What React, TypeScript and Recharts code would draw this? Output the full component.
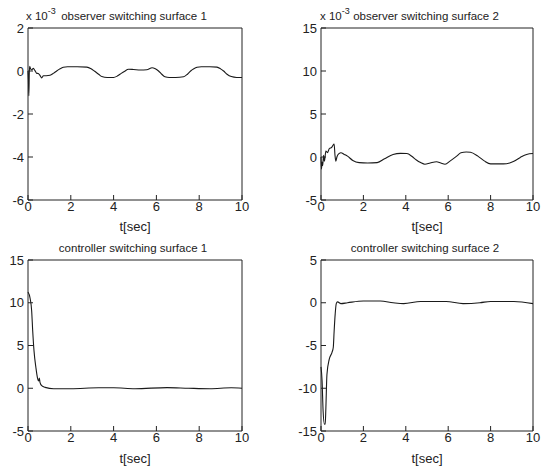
import React from 'react';
import { LineChart, Line, XAxis, YAxis } from 'recharts';

// observer switching surface 1 (values in units of 1e-3)
const obs1T = [0, 0.02, 0.04, 0.06, 0.08, 0.12, 0.17, 0.25, 0.32, 0.4, 0.48, 0.56, 0.64, 0.72, 0.85, 1.03, 1.2, 1.34, 1.5, 1.65, 1.85, 2.3, 2.75, 2.95, 3.1, 3.3, 3.45, 3.7, 4.0, 4.15, 4.3, 4.5, 4.7, 4.93, 5.25, 5.55, 5.8, 5.95, 6.1, 6.25, 6.4, 6.6, 6.9, 7.27, 7.45, 7.6, 7.75, 7.9, 8.1, 8.5, 8.83, 9.0, 9.14, 9.3, 9.5, 9.75, 10];
const obs1V = [0, -0.4, -1.15, -0.1, 0.22, 0.1, 0.05, 0.12, 0.03, -0.1, -0.12, -0.2, -0.32, -0.22, -0.22, -0.2, -0.1, 0, 0.1, 0.17, 0.2, 0.2, 0.18, 0.1, 0, -0.15, -0.26, -0.3, -0.3, -0.25, -0.15, -0.02, 0.08, 0.07, 0.05, 0.06, 0.15, 0.1, 0, -0.15, -0.27, -0.3, -0.3, -0.27, -0.15, 0, 0.1, 0.17, 0.2, 0.2, 0.18, 0.1, 0, -0.15, -0.26, -0.3, -0.3];

// observer switching surface 2 (values in units of 1e-3)
const obs2T = [0, 0.02, 0.05, 0.08, 0.12, 0.16, 0.23, 0.3, 0.4, 0.5, 0.55, 0.62, 0.66, 0.7, 0.75, 0.85, 0.94, 1.1, 1.25, 1.5, 1.8, 2.2, 2.65, 3.0, 3.4, 3.75, 4.05, 4.3, 4.5, 4.7, 4.9, 5.15, 5.45, 5.65, 5.85, 6.1, 6.4, 6.6, 6.85, 7.05, 7.4, 7.7, 8.0, 8.6, 8.9, 9.1, 9.4, 9.7, 10];
const obs2V = [0, -1.4, -0.6, -1.0, 0.2, -0.5, 0.7, 0.5, 1.0, 1.1, 1.3, 1.5, 0.2, -0.5, 0, 0.4, 0.5, 0.3, 0.1, -0.4, -0.65, -0.7, -0.65, -0.2, 0.3, 0.42, 0.4, 0.05, -0.35, -0.65, -0.85, -0.7, -0.55, -0.7, -0.85, -0.45, 0.1, 0.5, 0.58, 0.55, 0.1, -0.45, -0.8, -0.8, -0.7, -0.5, -0.05, 0.3, 0.4];

// controller switching surface 1
const ctl1T = [0, 0.1, 0.17, 0.22, 0.28, 0.37, 0.44, 0.5, 0.53, 0.56, 0.64, 0.8, 1.2, 2, 3.3, 4, 5, 6.5, 7.5, 8.5, 9.5, 10];
const ctl1V = [11.25, 10.5, 9.1, 6.7, 4.4, 2.4, 1.25, 0.85, 1.2, 0.7, 0.3, 0.1, -0.05, -0.05, 0.05, 0.05, -0.05, 0.07, 0, -0.05, 0.05, 0];

// controller switching surface 2
const ctl2T = [0, 0.05, 0.1, 0.16, 0.2, 0.23, 0.28, 0.39, 0.52, 0.58, 0.62, 0.67, 0.72, 0.78, 0.94, 1.25, 2.0, 2.8, 3.4, 3.9, 4.7, 5.9, 6.7, 7.5, 8.0, 9.1, 10];
const ctl2V = [-7.5, -9.1, -12.7, -14.2, -14.2, -12.3, -8.4, -6.6, -5.8, -5.2, -3.3, -1.3, -0.1, 0.1, -0.1, 0, 0.2, 0.2, 0, -0.1, 0.15, 0.15, -0.1, 0, 0.15, 0.15, -0.1];

const timeTicks = [0, 2, 4, 6, 8, 10];
const obs1Ticks = [-6, -4, -2, 0, 2];
const obs2Ticks = [-5, 0, 5, 10, 15];
const ctl1Ticks = [-5, 0, 5, 10, 15];
const ctl2Ticks = [-15, -10, -5, 0, 5];

const FONT = '"Liberation Sans", Arial, sans-serif';
const INK = '#222';

const toRows = (t: number[], v: number[]) => t.map((x, i) => ({ t: x, v: v[i] }));

interface PanelProps {
  left: number;
  top: number;
  width: number;
  height: number;
  plotLeft: number;
  plotRight: number;
  plotTop: number;
  plotBottom: number;
  rows: { t: number; v: number }[];
  yTicks: number[];
}

function Panel({ left, top, width, height, plotLeft, plotRight, plotTop, plotBottom, rows, yTicks }: PanelProps) {
  const domain: [number, number] = [yTicks[0], yTicks[yTicks.length - 1]];
  const tickStyle = { fill: INK, fontSize: 13, fontFamily: FONT };
  return (
    <div style={{ position: 'absolute', left, top }}>
      <LineChart
        width={width}
        height={height}
        data={rows}
        margin={{ top: plotTop - 1, right: width - plotRight - 1, left: 0, bottom: 0 }}
      >
        <XAxis
          dataKey="t"
          type="number"
          domain={[0, 10]}
          ticks={timeTicks}
          height={height - plotBottom}
          stroke={INK}
          tickSize={-5}
          tickMargin={7}
          tick={tickStyle}
          label={{ value: 't[sec]', position: 'insideBottom', offset: 4, style: { fill: INK, fontSize: 13, fontFamily: FONT } }}
        />
        <XAxis
          xAxisId="top"
          orientation="top"
          type="number"
          dataKey="t"
          domain={[0, 10]}
          ticks={timeTicks}
          height={1}
          stroke={INK}
          tickSize={-5}
          tick={false}
        />
        <YAxis
          type="number"
          domain={domain}
          ticks={yTicks}
          width={plotLeft}
          stroke={INK}
          tickSize={-5}
          tickMargin={9}
          tick={tickStyle}
          allowDataOverflow
        />
        <YAxis
          yAxisId="right"
          orientation="right"
          type="number"
          domain={domain}
          ticks={yTicks}
          width={1}
          stroke={INK}
          tickSize={-5}
          tick={false}
          allowDataOverflow
        />
        <Line
          type="monotone"
          dataKey="v"
          stroke="#1a1a1a"
          strokeWidth={1.1}
          dot={false}
          isAnimationActive={false}
        />
        {/* invisible twin so the top/right box axes get registered */}
        <Line
          xAxisId="top"
          yAxisId="right"
          type="monotone"
          dataKey="v"
          stroke="none"
          dot={false}
          isAnimationActive={false}
        />
      </LineChart>
    </div>
  );
}

function Title({ cx, cy, text, exp }: { cx: number; cy: number; text: string; exp?: number }) {
  return (
    <>
      {exp !== undefined && (
        <div style={{ position: 'absolute', left: exp, top: cy - 7, fontSize: 11.5, lineHeight: '14px', color: INK, fontFamily: FONT, whiteSpace: 'nowrap' }}>
          x 10<sup style={{ fontSize: 9, verticalAlign: 'top', position: 'relative', top: -5 }}>-3</sup>
        </div>
      )}
      <div style={{ position: 'absolute', left: cx - 100, width: 200, top: cy - 7, textAlign: 'center', fontSize: 11.5, lineHeight: '14px', color: INK, fontFamily: FONT, whiteSpace: 'nowrap' }}>
        {text}
      </div>
    </>
  );
}

export default function App() {
  return (
    <div style={{ position: 'absolute', left: 0, top: 0, width: 541, height: 467, background: '#fff', overflow: 'hidden' }}>
      <Panel left={0} top={0} width={270} height={235} plotLeft={28} plotRight={242} plotTop={28} plotBottom={200} rows={toRows(obs1T, obs1V)} yTicks={obs1Ticks} />
      <Panel left={270} top={0} width={271} height={235} plotLeft={51} plotRight={263} plotTop={28} plotBottom={200} rows={toRows(obs2T, obs2V)} yTicks={obs2Ticks} />
      <Panel left={0} top={235} width={270} height={232} plotLeft={28} plotRight={242} plotTop={25} plotBottom={196} rows={toRows(ctl1T, ctl1V)} yTicks={ctl1Ticks} />
      <Panel left={270} top={235} width={271} height={232} plotLeft={51} plotRight={263} plotTop={25} plotBottom={196} rows={toRows(ctl2T, ctl2V)} yTicks={ctl2Ticks} />
      <Title cx={134} cy={16} text="observer switching surface 1" exp={26} />
      <Title cx={426} cy={16} text="observer switching surface 2" exp={320} />
      <Title cx={133} cy={248} text="controller switching surface 1" />
      <Title cx={425} cy={248} text="controller switching surface 2" />
    </div>
  );
}
